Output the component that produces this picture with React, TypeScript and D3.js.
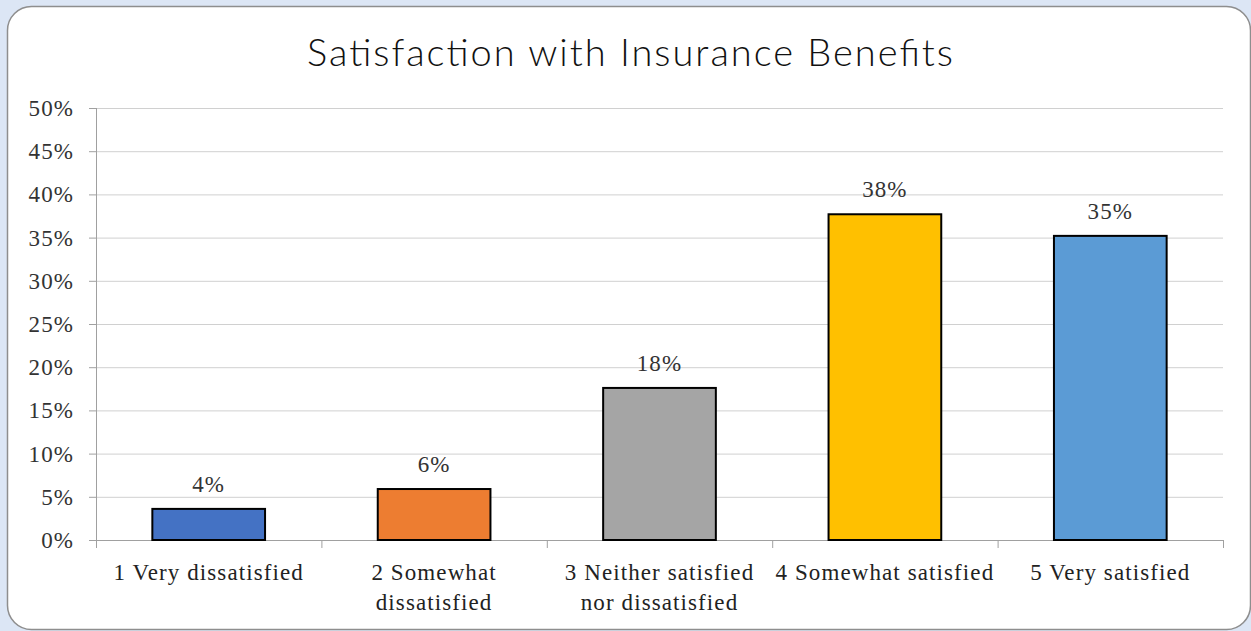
import React from "react";
import * as d3 from "d3";

const categories = [
  ["1 Very dissatisfied"],
  ["2 Somewhat", "dissatisfied"],
  ["3 Neither satisfied", "nor dissatisfied"],
  ["4 Somewhat satisfied"],
  ["5 Very satisfied"],
];
const values = [3.6, 5.9, 17.6, 37.7, 35.2];
const valueLabels = ["4%", "6%", "18%", "38%", "35%"];
const colors = ["#4472C4", "#ED7D31", "#A5A5A5", "#FFC000", "#5B9BD5"];
const yTicks = [0, 5, 10, 15, 20, 25, 30, 35, 40, 45, 50];
const title = "Satisfaction with Insurance Benefits";

export default function App() {
  const W = 1251, H = 631;
  const left = 96, right = 1223, top = 108, bottom = 540;
  const x = d3.scaleBand<number>().domain(d3.range(values.length)).range([left, right]).paddingInner(0).paddingOuter(0);
  const y = d3.scaleLinear().domain([0, 50]).range([bottom, top]);
  const bw = x.bandwidth();
  const barW = bw * 0.5;
  const serif = "'Liberation Serif', 'Times New Roman', serif";
  const fs = 23;
  const ls = 1.1;
  return (
    <svg width={W} height={H} style={{ position: "absolute", left: 0, top: 0, display: "block" }}>
      <rect x={0} y={0} width={W} height={H} fill="#dce6f5" />
      <rect x={7.5} y={6.5} width={1243} height={623} rx={24} fill="#fff" stroke="#8e8e8e" strokeWidth={1.5} />
      <text x={630} y={66} textAnchor="middle" fontFamily="'Lato', 'Open Sans', sans-serif" fontWeight={300} fontSize={38} fill="#111" textLength={646} lengthAdjust="spacing">{title}</text>
      {yTicks.map((t) => (
        <g key={t}>
          <line x1={left} x2={right} y1={y(t) + 0.5} y2={y(t) + 0.5} stroke={t === 0 ? "#a0a0a0" : "#d0d0d0"} strokeWidth={1} />
          <line x1={left - 7} x2={left} y1={y(t) + 0.5} y2={y(t) + 0.5} stroke="#a0a0a0" />
          <text x={74} y={y(t) + 8} textAnchor="end" fontFamily={serif} fontSize={fs} letterSpacing={ls} fill="#333">{t}%</text>
        </g>
      ))}
      <line x1={left + 0.5} x2={left + 0.5} y1={top} y2={bottom + 8} stroke="#a0a0a0" />
      {d3.range(values.length + 1).map((i) => {
        const xx = left + i * bw;
        return <line key={i} x1={xx + 0.5} x2={xx + 0.5} y1={bottom} y2={bottom + 8} stroke="#a0a0a0" />;
      })}
      {values.map((v, i) => {
        const cx = (x(i) as number) + bw / 2;
        return (
          <g key={i}>
            <rect x={cx - barW / 2} y={y(v)} width={barW} height={bottom - y(v)} fill={colors[i]} stroke="#000" strokeWidth={2} />
            <text x={cx} y={y(v) - 17} textAnchor="middle" fontFamily={serif} fontSize={fs} letterSpacing={ls} fill="#333">{valueLabels[i]}</text>
            {categories[i].map((line, j) => (
              <text key={j} x={cx} y={580 + j * 30} textAnchor="middle" fontFamily={serif} fontSize={fs} letterSpacing={ls} fill="#222">{line}</text>
            ))}
          </g>
        );
      })}
    </svg>
  );
}
